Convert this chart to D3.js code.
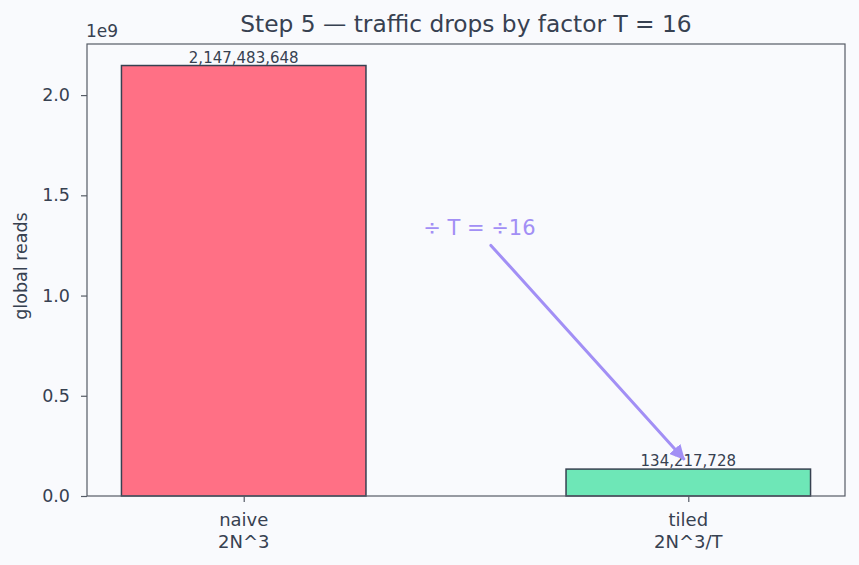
<!DOCTYPE html>
<html>
<head>
<meta charset="utf-8">
<script src="https://cdn.jsdelivr.net/npm/d3@7"></script>
<style>
  body { margin: 0; background: #f9fafd; }
  svg { display: block; font-family: "DejaVu Sans", sans-serif; }
</style>
</head>
<body>
<div class="chart"></div>
<script>
// Chart data.
const categories = ['naive', 'tiled'];
const subLabels = ['2N^3', '2N^3/T'];
const reads = [2147483648, 134217728];
const barColors = ['#ff7085', '#6ee7b7'];
const yTicks = [0, 0.5e9, 1.0e9, 1.5e9, 2.0e9];

// Annotation (data coordinates).
const noteText = '\u00f7 T = \u00f716';
const notePos = [0.53, 1.3e9];
const arrowTail = [0.556, 1.25e9];
const arrowHead = [0.99, 0.185e9];

const width = 859;
const height = 565;
const margin = { top: 44, right: 14, bottom: 69, left: 87 };
const ink = '#374151';
const spine = '#555b66';

const svg = d3.select('.chart')
              .append('svg')
              .attr('width', width)
              .attr('height', height);

svg.append('rect')
   .attr('width', width)
   .attr('height', height)
   .attr('fill', '#f9fafd');

// Scales, with matplotlib-like 5% margins.
const barW = 0.55;
const xlo = -barW / 2, xhi = 1 + barW / 2;
const xpad = (xhi - xlo) * 0.05;
const xScale = d3.scaleLinear()
                 .domain([xlo - xpad, xhi + xpad])
                 .range([margin.left, width - margin.right]);

const ymax = d3.max(reads) * 1.05;
const yScale = d3.scaleLinear()
                 .domain([0, ymax])
                 .range([height - margin.bottom, margin.top]);

// Bars.
svg.selectAll('rect.bar')
   .data(reads)
   .enter()
   .append('rect')
   .attr('class', 'bar')
   .attr('x', (d, i) => xScale(i - barW / 2))
   .attr('y', (d) => yScale(d))
   .attr('width', xScale(barW) - xScale(0))
   .attr('height', (d) => yScale(0) - yScale(d))
   .attr('fill', (d, i) => barColors[i])
   .attr('stroke', ink)
   .attr('stroke-width', 1.5);

// Value labels.
svg.selectAll('text.val')
   .data(reads)
   .enter()
   .append('text')
   .attr('class', 'val')
   .attr('x', (d, i) => xScale(i))
   .attr('y', (d) => yScale(d) - 3)
   .attr('text-anchor', 'middle')
   .attr('font-size', '15px')
   .attr('fill', ink)
   .text((d) => d3.format(',')(d));

// Axes.
const yAxis = d3.axisLeft(yScale)
                .tickValues(yTicks)
                .tickFormat((d) => (d / 1e9).toFixed(1))
                .tickSize(6)
                .tickPadding(11);
const gy = svg.append('g')
              .attr('transform', 'translate(' + margin.left + ',0)')
              .call(yAxis);

const xAxis = d3.axisBottom(xScale)
                .tickValues([0, 1])
                .tickFormat('')
                .tickSize(6);
const gx = svg.append('g')
              .attr('transform', 'translate(0,' + (height - margin.bottom) + ')')
              .call(xAxis);

[gx, gy].forEach((g) => {
  g.select('.domain').remove();
  g.selectAll('line').attr('stroke', spine).attr('stroke-width', 1.2);
  g.selectAll('text').attr('fill', ink).attr('font-size', '17.5px')
   .attr('font-family', '"DejaVu Sans", sans-serif');
});

// Two-line category labels.
categories.forEach((c, i) => {
  const t = svg.append('text')
               .attr('x', xScale(i))
               .attr('y', height - margin.bottom + 30)
               .attr('text-anchor', 'middle')
               .attr('font-size', '18px')
               .attr('fill', ink);
  t.append('tspan').attr('x', xScale(i)).text(c);
  t.append('tspan').attr('x', xScale(i)).attr('dy', 21.5).text(subLabels[i]);
});

// Frame.
svg.append('rect')
   .attr('x', margin.left)
   .attr('y', margin.top)
   .attr('width', width - margin.left - margin.right)
   .attr('height', height - margin.top - margin.bottom)
   .attr('fill', 'none')
   .attr('stroke', spine)
   .attr('stroke-width', 1.2);

// Offset label and title.
svg.append('text')
   .attr('x', margin.left - 1)
   .attr('y', margin.top - 7)
   .attr('font-size', '17px')
   .attr('fill', ink)
   .text('1e9');

svg.append('text')
   .attr('x', (margin.left + width - margin.right) / 2)
   .attr('y', 32)
   .attr('text-anchor', 'middle')
   .attr('font-size', '23.3px')
   .attr('fill', ink)
   .text('Step 5 \u2014 traffic drops by factor T = 16');

svg.append('text')
   .attr('transform', 'translate(27,' + (yScale(ymax / 2) - 4) + ') rotate(-90)')
   .attr('text-anchor', 'middle')
   .attr('font-size', '17.5px')
   .attr('fill', ink)
   .text('global reads');

// Annotation arrow.
const arrowColor = '#a28ff5';
svg.append('defs')
   .append('marker')
   .attr('id', 'head')
   .attr('viewBox', '0 0 10 10')
   .attr('refX', 9)
   .attr('refY', 5)
   .attr('markerWidth', 5)
   .attr('markerHeight', 5)
   .attr('markerUnits', 'strokeWidth')
   .attr('orient', 'auto')
   .append('path')
   .attr('d', 'M0,0 L10,5 L0,10 Z')
   .attr('fill', arrowColor);

svg.append('line')
   .attr('x1', xScale(arrowTail[0]))
   .attr('y1', yScale(arrowTail[1]))
   .attr('x2', xScale(arrowHead[0]))
   .attr('y2', yScale(arrowHead[1]))
   .attr('stroke', arrowColor)
   .attr('stroke-width', 3)
   .attr('stroke-linecap', 'round')
   .attr('marker-end', 'url(#head)');

svg.append('text')
   .attr('x', xScale(notePos[0]))
   .attr('y', yScale(notePos[1]))
   .attr('text-anchor', 'middle')
   .attr('font-size', '21px')
   .attr('fill', arrowColor)
   .text(noteText);
</script>
</body>
</html>
